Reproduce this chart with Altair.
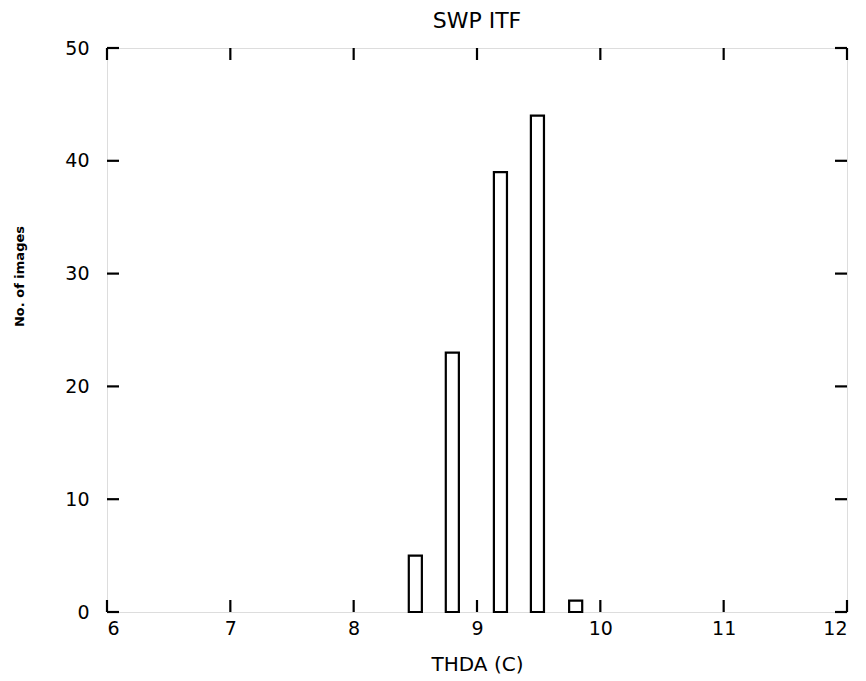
import altair as alt
import pandas as pd

# data
centers = [8.50, 8.80, 9.19, 9.49, 9.80]
counts = [5, 23, 39, 44, 1]
bar_half_width = 0.053
x_ticks = [6, 7, 8, 9, 10, 11, 12]
y_ticks = [0, 10, 20, 30, 40, 50]

W, H = 740, 564
FONT = "DejaVu Sans"

bars = pd.DataFrame({
    "x0": [c - bar_half_width for c in centers],
    "x1": [c + bar_half_width for c in centers],
    "n": counts,
})
xt = pd.DataFrame({"v": x_ticks})
yt = pd.DataFrame({"v": y_ticks})

xscale = alt.Scale(domain=[6, 12], nice=False)
yscale = alt.Scale(domain=[0, 50], nice=False)

xaxis = alt.Axis(values=x_ticks, format="d", grid=False, ticks=False, domain=False,
                 labelFont=FONT, labelFontSize=19, labelColor="black", labelPadding=7,
                 title="THDA (C)", titleFont=FONT, titleFontSize=20, titleFontWeight="normal",
                 titleColor="black", titlePadding=16)
yaxis = alt.Axis(values=y_ticks, format="d", grid=False, ticks=False, domain=False,
                 labelFont=FONT, labelFontSize=19, labelColor="black", labelPadding=18,
                 title="No. of images", titleFont=FONT, titleFontSize=13, titleFontWeight="bold",
                 titleColor="black", titlePadding=38, titleY=228)

bar_layer = alt.Chart(bars).mark_bar(fill="white", stroke="black", strokeWidth=2.2).encode(
    x=alt.X("x0:Q", scale=xscale, axis=xaxis),
    x2="x1:Q",
    y=alt.Y("n:Q", scale=yscale, axis=yaxis),
    y2=alt.datum(0),
)

tick_style = dict(color="black", strokeWidth=2.2)
bottom_ticks = alt.Chart(xt).mark_rule(**tick_style).encode(
    x=alt.X("v:Q", scale=xscale), y=alt.value(H), y2=alt.value(H - 12))
top_ticks = alt.Chart(xt).mark_rule(**tick_style).encode(
    x=alt.X("v:Q", scale=xscale), y=alt.value(0), y2=alt.value(12))
left_ticks = alt.Chart(yt).mark_rule(**tick_style).encode(
    y=alt.Y("v:Q", scale=yscale), x=alt.value(0), x2=alt.value(12))
right_ticks = alt.Chart(yt).mark_rule(**tick_style).encode(
    y=alt.Y("v:Q", scale=yscale), x=alt.value(W), x2=alt.value(W - 12))

chart = alt.layer(bar_layer, bottom_ticks, top_ticks, left_ticks, right_ticks).properties(
    width=W, height=H,
    title=alt.Title("SWP ITF", font=FONT, fontSize=22, fontWeight="normal", color="black", offset=6),
    autosize=alt.AutoSizeParams(type="none"),
    padding={"left": 99, "top": 40, "right": 10, "bottom": 66},
).configure_view(stroke="black", strokeWidth=2.2).configure(background="white")

chart.save("out.html", embed_options={"renderer": "svg", "actions": False})
